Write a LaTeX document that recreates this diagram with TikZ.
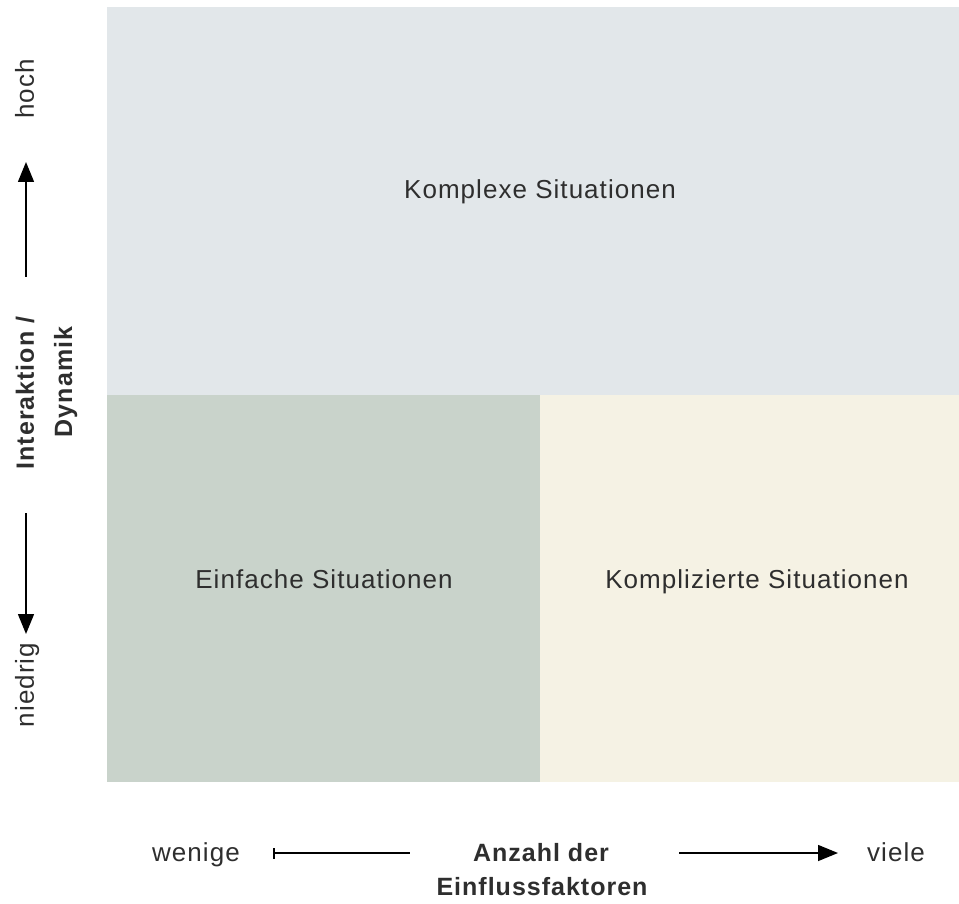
\documentclass[tikz,border=0pt]{standalone}
\usepackage{fontspec}
\setmainfont{Liberation Sans}[LetterSpace=4]
\usetikzlibrary{arrows.meta}
\definecolor{topbg}{HTML}{E2E7EA}
\definecolor{leftbg}{HTML}{C9D3CB}
\definecolor{rightbg}{HTML}{F5F2E4}
\definecolor{txt}{HTML}{2E2E2E}
\tikzset{
  lbl/.style={font=\fontsize{26}{30}\selectfont, text=txt, inner sep=0pt, anchor=base},
  blbl/.style={lbl, font=\fontsize{25}{30}\selectfont\bfseries},
  axis/.style={line width=1.5pt, draw=black},
  tipend/.style={-{Triangle[length=20pt,width=16pt]}},
  barend/.style={{Bar[width=11pt]}-},
  region/.style={draw=none, inner sep=0pt}
}
\begin{document}
\begin{tikzpicture}[x=1pt,y=-1pt]
\useasboundingbox (0,0) rectangle (959,904);
% regions
\fill[topbg] (107,7) rectangle (959,395);
\fill[leftbg] (107,395) rectangle (540,782);
\fill[rightbg] (540,395) rectangle (959,782);
\node[lbl] (komplex) at (540,199) {Komplexe Situationen};
\node[lbl] (einfach) at (324,588) {Einfache Situationen};
\node[lbl] (kompliz) at (757,588) {Komplizierte Situationen};
% vertical axis
\node[lbl, rotate=90] (hoch) at (34,89) {hoch};
\node[lbl, rotate=90] (niedrig) at (34,685) {niedrig};
\node[blbl, rotate=90] (inter) at (34,393) {Interaktion /};
\node[blbl, rotate=90] (dyn) at (72,382) {Dynamik};
\coordinate (u0) at (26,277);
\coordinate (u1) at (26,162);
\coordinate (d0) at (26,513);
\coordinate (d1) at (26,634);
\draw[axis, barend, tipend] (u0) -- (u1);
\draw[axis, barend, tipend] (d0) -- (d1);
% horizontal axis
\node[lbl] (wenige) at (196,861) {wenige};
\node[lbl] (viele) at (896,861) {viele};
\node[blbl] (anzahl) at (541,861) {Anzahl der};
\node[blbl] (einfl) at (542,895) {Einflussfaktoren};
\coordinate (l0) at (273,853);
\coordinate (l1) at (410,853);
\coordinate (r0) at (679,853);
\coordinate (r1) at (838,853);
\draw[axis, barend] (l0) -- (l1);
\draw[axis, tipend] (r0) -- (r1);
\end{tikzpicture}
\end{document}
